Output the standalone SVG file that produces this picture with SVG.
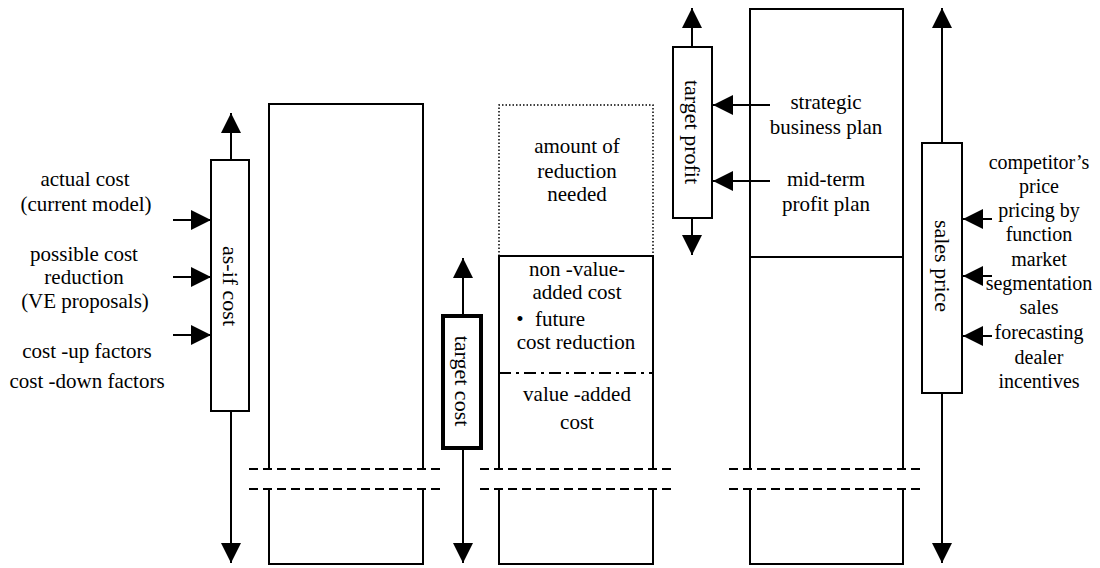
<svg xmlns="http://www.w3.org/2000/svg" width="1100" height="568" viewBox="0 0 1100 568" font-family="'Liberation Serif', 'Times New Roman', serif">
<style>
  text { font-family: "Liberation Serif", "Times New Roman", serif; font-size: 21px; fill: #000; text-anchor: middle; }
  .rt { font-size: 20px; }
  .vt { font-size: 22px; dominant-baseline: central; }
  .ln { stroke: #000; stroke-width: 2; fill: none; }
  .box { stroke: #000; stroke-width: 2; fill: #fff; }
  .thick { stroke: #000; stroke-width: 4; fill: #fff; }
  .dash { stroke: #000; stroke-width: 2; stroke-dasharray: 9 5; fill: none; }
  .dot { stroke: #000; stroke-width: 1.5; stroke-dasharray: 1.5 2; fill: none; }
  .dashdot { stroke: #000; stroke-width: 2; stroke-dasharray: 12 5 3 5; fill: none; }
  .arr { stroke: #000; stroke-width: 2; fill: none; marker-end: url(#ah); }
</style>
<defs>
  <marker id="ah" viewBox="0 0 20 20" refX="20" refY="10" markerWidth="20" markerHeight="20" markerUnits="userSpaceOnUse" orient="auto">
    <path d="M0,0 L20,10 L0,20 z" fill="#000"/>
  </marker>
</defs>
<rect width="1100" height="568" fill="#fff"/>

<!-- column frames -->
<g id="col-asif-frame">
  <path class="ln" d="M269,469 V104 H423 V469 M269,489 V564 H423 V489"/>
</g>
<g id="col-target-frame">
  <path class="dot" d="M499,256 V105 H653 V256"/>
  <path class="ln" d="M499,469 V256 H653 V469 M499,489 V564 H653 V489"/>
  <line class="dashdot" x1="499" y1="373" x2="653" y2="373"/>
  <text x="577" y="153">amount of</text>
  <text x="577" y="178">reduction</text>
  <text x="577" y="201">needed</text>
  <text x="577" y="276">non -value-</text>
  <text x="577" y="299">added cost</text>
  <text x="520" y="326">•</text>
  <text x="535" y="326" style="text-anchor:start">future</text>
  <text x="576" y="349">cost reduction</text>
  <text x="577" y="401">value -added</text>
  <text x="577" y="429">cost</text>
</g>
<g id="col-price-frame">
  <path class="ln" d="M750,469 V9 H903 V469 M750,489 V564 H903 V489"/>
  <line class="ln" x1="750" y1="257" x2="903" y2="257"/>
  <text x="826" y="109">strategic</text>
  <text x="826" y="134">business plan</text>
  <text x="826" y="186">mid-term</text>
  <text x="826" y="211">profit plan</text>
</g>

<!-- break lines -->
<g id="breaks">
  <line class="dash" x1="249" y1="469" x2="441" y2="469"/>
  <line class="dash" x1="249" y1="489" x2="441" y2="489"/>
  <line class="dash" x1="480" y1="469" x2="672" y2="469"/>
  <line class="dash" x1="480" y1="489" x2="672" y2="489"/>
  <line class="dash" x1="729" y1="469" x2="921" y2="469"/>
  <line class="dash" x1="729" y1="489" x2="921" y2="489"/>
</g>

<!-- connectors -->
<g id="connectors">
  <line class="arr" x1="231" y1="160" x2="231" y2="113"/>
  <line class="arr" x1="231" y1="411" x2="231" y2="563"/>
  <line class="arr" x1="173" y1="220" x2="211" y2="220"/>
  <line class="arr" x1="173" y1="277" x2="211" y2="277"/>
  <line class="arr" x1="173" y1="335" x2="211" y2="335"/>

  <line class="arr" x1="463" y1="314" x2="463" y2="258"/>
  <line class="arr" x1="463" y1="450" x2="463" y2="563"/>

  <line class="arr" x1="692" y1="47" x2="692" y2="8"/>
  <line class="arr" x1="692" y1="218" x2="692" y2="255"/>
  <line class="arr" x1="770" y1="105" x2="713" y2="105"/>
  <line class="arr" x1="770" y1="181" x2="713" y2="181"/>

  <line class="arr" x1="942" y1="143" x2="942" y2="8"/>
  <line class="arr" x1="942" y1="393" x2="942" y2="563"/>
  <line class="arr" x1="992" y1="219" x2="963" y2="219"/>
  <line class="arr" x1="992" y1="276" x2="963" y2="276"/>
  <line class="arr" x1="992" y1="336" x2="963" y2="336"/>
</g>

<!-- nodes -->
<g id="asif-cost">
  <rect class="box" x="211" y="160" width="38" height="251"/>
  <text class="vt" transform="translate(230,286) rotate(90)">as-if cost</text>
</g>
<g id="asif-inputs">
  <text x="85" y="186">actual cost</text>
  <text x="86" y="211">(current model)</text>
  <text x="84" y="261">possible cost</text>
  <text x="84" y="284">reduction</text>
  <text x="85" y="308">(VE proposals)</text>
  <text x="87" y="358">cost -up factors</text>
  <text x="87" y="388">cost -down factors</text>
</g>
<g id="target-cost">
  <rect class="thick" x="443" y="316" width="38" height="132"/>
  <text class="vt" transform="translate(462,381) rotate(90)">target cost</text>
</g>
<g id="target-profit">
  <rect class="box" x="673" y="47" width="39" height="171"/>
  <text class="vt" transform="translate(692,132) rotate(90)">target profit</text>
</g>
<g id="sales-price">
  <rect class="box" x="922" y="143" width="40" height="250"/>
  <text class="vt" transform="translate(942,266) rotate(90)">sales price</text>
</g>
<g id="price-inputs">
  <text class="rt" x="1039" y="169">competitor’s</text>
  <text class="rt" x="1039" y="193">price</text>
  <text class="rt" x="1039" y="217">pricing by</text>
  <text class="rt" x="1039" y="241">function</text>
  <text class="rt" x="1039" y="266">market</text>
  <text class="rt" x="1039" y="290">segmentation</text>
  <text class="rt" x="1039" y="314">sales</text>
  <text class="rt" x="1039" y="339">forecasting</text>
  <text class="rt" x="1039" y="364">dealer</text>
  <text class="rt" x="1039" y="388">incentives</text>
</g>
</svg>
